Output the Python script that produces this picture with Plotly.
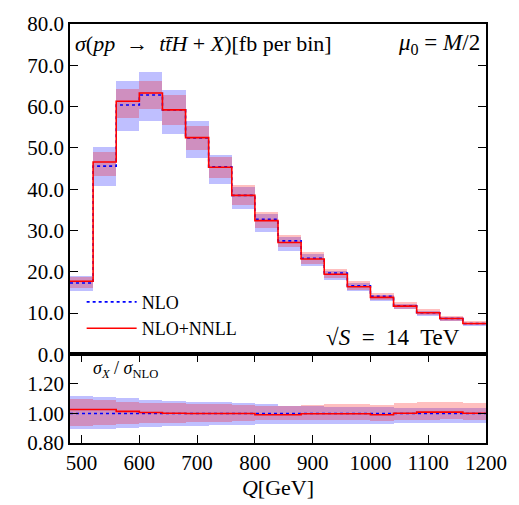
import plotly.graph_objects as go

# ---- data ----
bin_edges = [480, 520, 560, 600, 640, 680, 720, 760, 800, 840, 880, 920, 960, 1000, 1040, 1080, 1120, 1160, 1200]

nlo = [17.3, 45.6, 60.4, 62.8, 59.2, 52.4, 45.4, 38.5, 32.7, 27.5, 23.3, 19.7, 16.6, 14.05, 11.75, 10.1, 8.7, 7.5]
nlo_lo = [15.4, 40.8, 54.1, 56.5, 53.3, 47.6, 41.3, 35.1, 29.7, 25.1, 21.3, 18.0, 15.3, 12.9, 10.9, 9.4, 8.0, 6.9]
nlo_hi = [19.0, 50.2, 66.3, 68.4, 64.0, 56.4, 48.3, 40.6, 34.0, 28.4, 24.2, 20.2, 17.3, 14.5, 12.2, 10.5, 9.0, 7.7]

nnll = [17.7, 46.6, 61.3, 63.3, 59.2, 52.5, 45.3, 38.5, 32.4, 27.1, 23.1, 19.4, 16.4, 13.8, 11.7, 10.1, 8.7, 7.5]
nnll_lo = [16.2, 43.3, 57.2, 59.4, 55.6, 49.4, 42.6, 36.1, 30.7, 25.9, 21.8, 18.4, 15.6, 13.2, 11.1, 9.6, 8.2, 7.1]
nnll_hi = [18.8, 49.1, 64.2, 66.3, 62.8, 55.2, 47.7, 41.0, 34.5, 28.8, 24.7, 20.6, 17.7, 14.9, 12.6, 10.9, 9.3, 8.0]

ratio_nlo_lo = [0.889, 0.894, 0.900, 0.905, 0.910, 0.914, 0.916, 0.919, 0.923, 0.925, 0.926, 0.927, 0.928, 0.929, 0.930, 0.931, 0.932, 0.933]
ratio_nlo_hi = [1.115, 1.106, 1.100, 1.088, 1.081, 1.077, 1.072, 1.066, 1.059, 1.050, 1.045, 1.042, 1.040, 1.038, 1.036, 1.035, 1.034, 1.033]
ratio_nnll = [1.027, 1.027, 1.014, 1.007, 1.002, 1.000, 1.000, 1.000, 0.991, 0.991, 0.998, 0.998, 0.998, 0.991, 1.002, 1.009, 1.009, 1.002]
ratio_nnll_lo = [0.912, 0.916, 0.923, 0.930, 0.934, 0.937, 0.941, 0.946, 0.950, 0.950, 0.950, 0.952, 0.953, 0.948, 0.955, 0.956, 0.957, 0.955]
ratio_nnll_hi = [1.093, 1.086, 1.077, 1.070, 1.066, 1.061, 1.059, 1.054, 1.050, 1.050, 1.055, 1.058, 1.060, 1.055, 1.070, 1.075, 1.075, 1.070]

main_ticks = [0, 10, 20, 30, 40, 50, 60, 70, 80]
ratio_ticks = [0.8, 1.0, 1.2]
x_ticks = [500, 600, 700, 800, 900, 1000, 1100, 1200]

# ---- derived ----
centers = [(a + b) / 2 for a, b in zip(bin_edges[:-1], bin_edges[1:])]
widths = [b - a for a, b in zip(bin_edges[:-1], bin_edges[1:])]


def step_y(vals):
    return list(vals) + [vals[-1]]


ones = [1.0] * len(nlo)

BLUE_BAND = "rgba(0,0,255,0.25)"
RED_BAND = "rgba(255,0,0,0.25)"
FONT = "Liberation Serif, DejaVu Serif, serif"

fig = go.Figure()


def band(lo, hi, color, ax):
    fig.add_trace(go.Bar(
        x=centers, y=[h - l for l, h in zip(lo, hi)], base=lo, width=widths,
        marker=dict(color=color, line=dict(width=0)), showlegend=False,
        hoverinfo="skip", xaxis=ax[0], yaxis=ax[1]))


# main panel
band(nlo_lo, nlo_hi, BLUE_BAND, ("x", "y"))
band(nnll_lo, nnll_hi, RED_BAND, ("x", "y"))
fig.add_trace(go.Scatter(x=bin_edges, y=step_y(nlo), mode="lines", line_shape="hv",
                         line=dict(color="blue", width=1.6, dash="dot"), name="NLO",
                         xaxis="x", yaxis="y"))
fig.add_trace(go.Scatter(x=bin_edges, y=step_y(nnll), mode="lines", line_shape="hv",
                         line=dict(color="red", width=1.6), name="NLO+NNLL",
                         xaxis="x", yaxis="y"))

# ratio panel
band(ratio_nlo_lo, ratio_nlo_hi, BLUE_BAND, ("x2", "y2"))
band(ratio_nnll_lo, ratio_nnll_hi, RED_BAND, ("x2", "y2"))
fig.add_trace(go.Scatter(x=bin_edges, y=step_y(ones), mode="lines", line_shape="hv",
                         line=dict(color="blue", width=1.6, dash="dot"), showlegend=False,
                         xaxis="x2", yaxis="y2"))
fig.add_trace(go.Scatter(x=bin_edges, y=step_y(ratio_nnll), mode="lines", line_shape="hv",
                         line=dict(color="red", width=1.6), showlegend=False,
                         xaxis="x2", yaxis="y2"))

ratio_frac = 89 / 421
axis_common = dict(showline=True, linecolor="black", linewidth=1.8,
                   showgrid=False, zeroline=False,
                   tickfont=dict(family=FONT, size=21, color="black"),
                   tickwidth=1.3, tickcolor="black")

fig.update_layout(
    width=519, height=505,
    margin=dict(l=70, r=31, t=22, b=62),
    paper_bgcolor="white", plot_bgcolor="white",
    barmode="overlay", bargap=0,
    font=dict(family=FONT, color="black"),
    xaxis=dict(range=[480, 1200], domain=[0, 1], anchor="y", showticklabels=False,
               ticks="", mirror=True, **axis_common),
    yaxis=dict(range=[0, 80], domain=[ratio_frac, 1], anchor="x", tickvals=main_ticks,
               ticktext=[f"{v:.1f}" for v in main_ticks], ticks="inside", ticklen=8,
               mirror="ticks", **axis_common),
    xaxis2=dict(range=[480, 1200], domain=[0, 1], anchor="y2", tickvals=x_ticks,
                ticks="inside", ticklen=8, mirror="ticks",
                title=dict(text="<i>Q</i>[GeV]", font=dict(family=FONT, size=22), standoff=2),
                **axis_common),
    yaxis2=dict(range=[0.8, 1.4], domain=[0, ratio_frac], anchor="x2", tickvals=ratio_ticks,
                ticktext=[f"{v:.2f}" for v in ratio_ticks], ticks="inside", ticklen=8,
                mirror="ticks", **axis_common),
    legend=dict(x=0.028, y=0.305, xanchor="left", yanchor="middle", xref="paper", yref="paper",
                bgcolor="rgba(0,0,0,0)", font=dict(family=FONT, size=18), itemwidth=50,
                tracegroupgap=0),
    showlegend=True,
)

fig.add_annotation(text="<i>σ</i>(<i>pp</i>  →  <i>tt̄H</i> + <i>X</i>)[fb per bin]",
                   xref="x domain", yref="y domain", x=0.008, y=0.94, xanchor="left", yanchor="middle",
                   showarrow=False, font=dict(family=FONT, size=22))
fig.add_annotation(text="<i>μ</i><sub>0</sub> = <i>M</i>/2",
                   xref="x domain", yref="y domain", x=0.99, y=0.94, xanchor="right", yanchor="middle",
                   showarrow=False, font=dict(family=FONT, size=23))
fig.add_annotation(text="√<i>S</i>  =  14  TeV",
                   xref="x domain", yref="y domain", x=0.943, y=0.05, xanchor="right", yanchor="middle",
                   showarrow=False, font=dict(family=FONT, size=23))
fig.add_annotation(text="<i>σ</i><sub><i>X</i></sub> / <i>σ</i><sub>NLO</sub>",
                   xref="x2 domain", yref="y2 domain", x=0.05, y=0.83, xanchor="left", yanchor="middle",
                   showarrow=False, font=dict(family=FONT, size=18))

fig.write_html("out.html")
